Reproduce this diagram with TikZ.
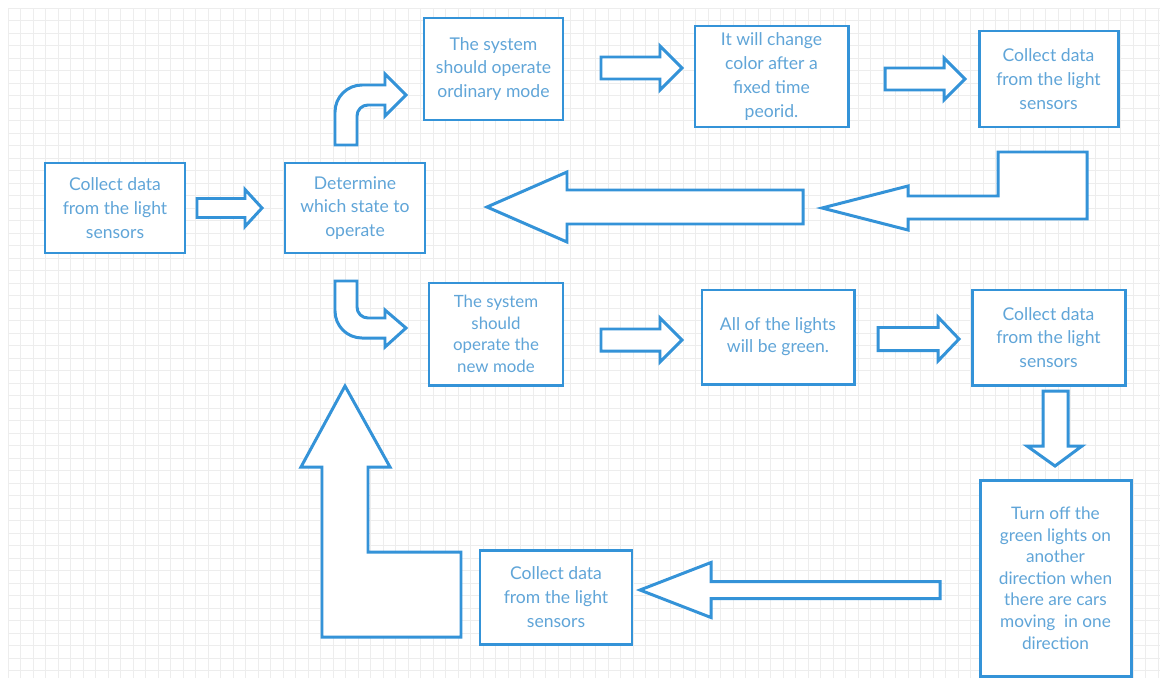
\documentclass[tikz,border=0pt]{standalone}
\usepackage{fontspec}
\setmainfont{Lato}
\usetikzlibrary{calc}
\definecolor{flowblue}{RGB}{52,147,216}
\definecolor{flowtext}{RGB}{96,165,216}

\tikzset{
  box/.style 2 args={draw=flowblue, line width=1.7pt, fill=white, text=flowtext,
    align=center, inner sep=0pt, font=\fontsize{10}{13.6}\selectfont,
    minimum width=#1*0.02cm, minimum height=#2*0.02cm},
  blockarrow/.style={draw=flowblue, line width=1.7pt, fill=white, line join=miter},
  gridline/.style={black!7, line width=0.5pt}
}

% straight block arrow: shaft start, head base, tip, centre line, half shaft, half head
\newcommand{\blockh}[6]{%
  \draw[blockarrow] (#1,#4-#5) -- (#2,#4-#5) -- (#2,#4-#6) -- (#3,#4)
    -- (#2,#4+#6) -- (#2,#4+#5) -- (#1,#4+#5) -- cycle;}

\begin{document}
\begin{tikzpicture}[x=0.02cm,y=-0.02cm]
  \useasboundingbox[fill=white] (0,0) rectangle (1167,680);

  % grid paper
  \foreach \i in {0,...,92}
    \draw[gridline] (8+\i*12.5,8) -- (8+\i*12.5,678);
  \foreach \j in {0,...,53}
    \draw[gridline] (8,8+\j*12.5) -- (1160,8+\j*12.5);

  % boxes
  \node[box={140}{90}] (collect1) at (115,208) {Collect data\\from the light\\sensors};
  \node[box={140}{90}] (decide) at (355,208) {Determine\\which state to\\operate};
  \node[box={139}{102}] (ordinary) at (493.5,69) {The system\\should operate\\ordinary mode};
  \node[box={153}{101}] (change) at (771.5,76.5) {It will change\\color after a\\fixed time\\peorid.};
  \node[box={139}{96}] (collect2) at (1048.5,79) {Collect data\\from the light\\sensors};
  \node[box={134}{102}, font=\fontsize{9.6}{12.3}\selectfont] (newmode) at (496,334)
    {The system\\should\\operate the\\new mode};
  \node[box={152}{94}, font=\fontsize{10}{12.6}\selectfont] (green) at (778,337)
    {All of the lights\\will be green.};
  \node[box={153}{95}] (collect3) at (1048.5,337.5) {Collect data\\from the light\\sensors};
  \node[box={151}{196}, font=\fontsize{9.8}{12.3}\selectfont] (turnoff) at (1055.5,578)
    {Turn off the\\green lights on\\another\\direction when\\there are cars\\moving~ in one\\direction};
  \node[box={152}{94}] (collect4) at (556,597) {Collect data\\from the light\\sensors};

  % straight arrows
  \blockh{197}{245}{262}{208}{9.5}{18.5}
  \blockh{601}{660}{682}{68}{11}{22}
  \blockh{885}{944}{965}{79}{11}{21}
  \blockh{601}{660}{682}{340}{11}{22}
  \blockh{878}{938}{959}{339}{11.5}{22}
  \blockh{940}{711}{640}{590}{8.5}{27.5}
  \blockh{803}{567}{487}{207}{17}{35}
  \draw[blockarrow] (1043,391) -- (1068,391) -- (1068,446) -- (1082,446)
    -- (1055,466) -- (1027,446) -- (1043,446) -- cycle;

  % bent arrows
  \draw[blockarrow] (335,145) -- (335,112) arc (180:270:27) -- (385,85) -- (385,74)
    -- (406,95) -- (385,116) -- (385,105) -- (368,105) arc (270:180:11) -- (357,145) -- cycle;
  \draw[blockarrow] (335,281) -- (357,281) -- (357,307) arc (180:90:11) -- (385,318)
    -- (385,310) -- (406,328) -- (385,347) -- (385,338) -- (362,338) arc (90:180:27) -- cycle;
  \draw[blockarrow] (822,208) -- (908,186) -- (908,196) -- (998,196) -- (998,152)
    -- (1087,152) -- (1087,219) -- (908,219) -- (908,230) -- cycle;
  \draw[blockarrow] (345,386) -- (390,467) -- (368,467) -- (368,552) -- (461,552)
    -- (461,637) -- (322,637) -- (322,467) -- (301,467) -- cycle;
\end{tikzpicture}
\end{document}
